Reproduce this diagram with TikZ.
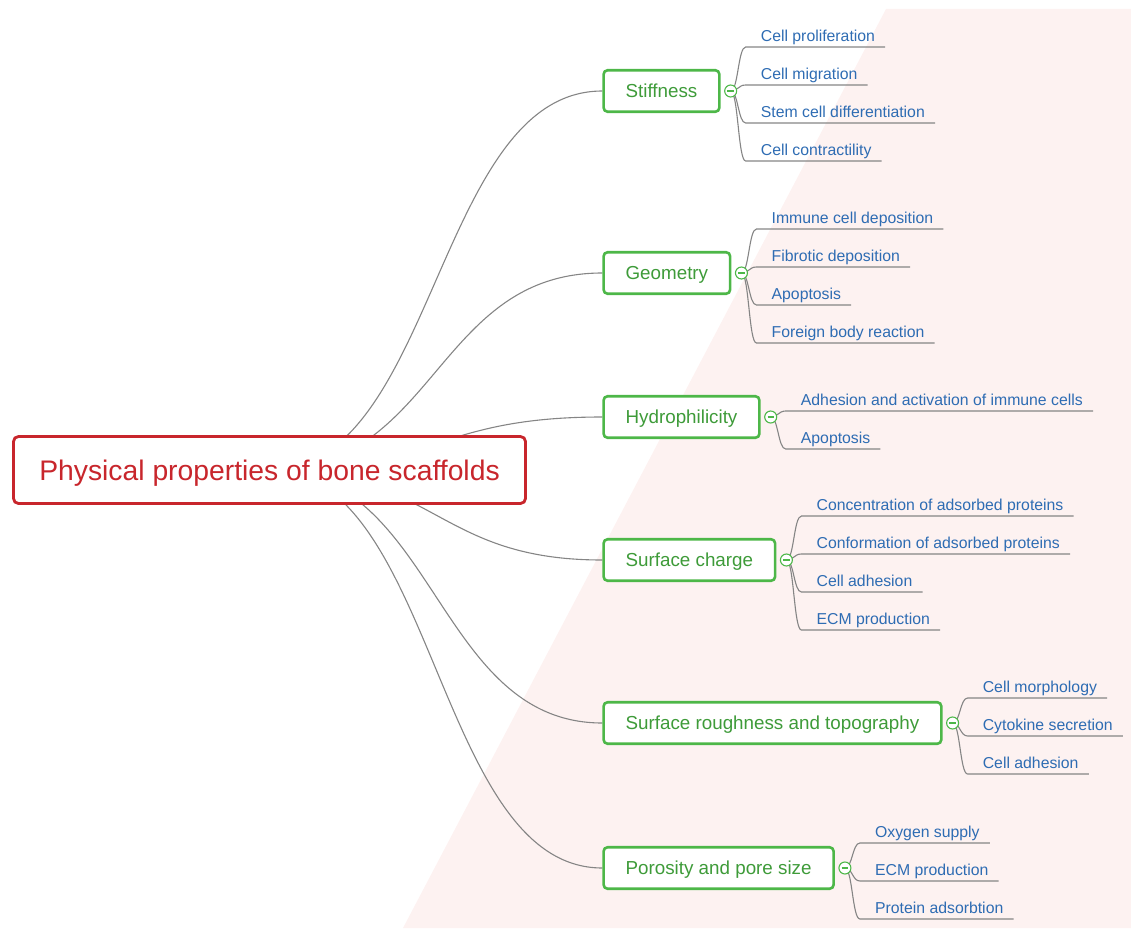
\documentclass[tikz,border=0pt]{standalone}
\usepackage{fontspec}
\setmainfont{Liberation Sans}
\usetikzlibrary{calc}
\definecolor{rootred}{HTML}{C8262C}
\definecolor{brgreen}{HTML}{4DB748}
\definecolor{brtext}{HTML}{3E9B39}
\definecolor{leafblue}{HTML}{2E6CB3}
\definecolor{linegray}{HTML}{858585}
\definecolor{bgpink}{HTML}{FDF2F1}
\pgfdeclarelayer{bg}
\pgfdeclarelayer{mid}
\pgfsetlayers{bg,mid,main}
\newcommand\sconn[2]{%
  \begin{pgfonlayer}{mid}
  \draw[conn] let \p1=(#1), \p2=(#2) in (\p1) .. controls ({(\x1+\x2)/2},\y1) and ({(\x1+\x2)/2},\y2) .. (\p2);
  \end{pgfonlayer}}
\newcommand\leafitem[4]{%
  \node[leaftext, anchor=base west] (#2) at ($(#1)+(30,#3+7.5)$) {#4};
  \coordinate (#2u) at ($(#1)+(15,#3+13)$);
  \begin{pgfonlayer}{mid}
  \draw[conn] (#1.center) .. controls ($(#1)+(7.5,0)$) and ($(#2u)+(-7.5,0)$) .. (#2u) -- ($(#2u -| #2.east)+(10,0)$);
  \end{pgfonlayer}}
\begin{document}
\begin{tikzpicture}[x=1pt,y=-1pt,
  rootbox/.style={draw=rootred, line width=2.8pt, rounded corners=5pt, fill=white,
    text=rootred, font=\fontsize{28.3}{32}\selectfont, minimum width=512pt,
    minimum height=67pt, inner sep=0pt, text height=21pt, text depth=0.7pt},
  branch/.style={draw=brgreen, line width=2.6pt, rounded corners=4pt, fill=white,
    text=brtext, font=\fontsize{18.8}{22}\selectfont, minimum height=41.5pt,
    inner xsep=22pt, inner ysep=0pt, anchor=west, text height=14.4pt, text depth=1pt},
  minus/.style={circle, draw=brgreen, fill=white, line width=1.1pt, minimum size=12pt,
    inner sep=0pt,
    path picture={\draw[brgreen, line width=1.2pt]
      ([xshift=-3.2pt]path picture bounding box.center) --
      ([xshift=3.2pt]path picture bounding box.center);}},
  leaftext/.style={text=leafblue, font=\fontsize{15.8}{18}\selectfont, inner sep=0pt},
  conn/.style={draw=linegray, line width=1.1pt}]
\useasboundingbox (0,0) rectangle (1131,928);
\begin{pgfonlayer}{bg}
  \fill[bgpink] (886,9) -- (1131,9) -- (1131,928) -- (403,928) -- cycle;
\end{pgfonlayer}

\node[rootbox] (root) at (269.5,470) {Physical properties of bone scaffolds};

\node[branch] (b1) at (602.3,91) {Stiffness};
\node[branch] (b2) at (602.3,273) {Geometry};
\node[branch] (b3) at (602.3,417) {Hydrophilicity};
\node[branch] (b4) at (602.3,560) {Surface charge};
\node[branch] (b5) at (602.3,723) {Surface roughness and topography};
\node[branch] (b6) at (602.3,868) {Porosity and pore size};

\foreach \i in {1,...,6}{\sconn{root.center}{b\i.west}}

\foreach \i in {1,...,6}{\node[minus] (c\i) at ($(b\i.east)+(10,0)$) {};}

\leafitem{c1}{l11}{-57}{Cell proliferation}
\leafitem{c1}{l12}{-19}{Cell migration}
\leafitem{c1}{l13}{19}{Stem cell differentiation}
\leafitem{c1}{l14}{57}{Cell contractility}

\leafitem{c2}{l21}{-57}{Immune cell deposition}
\leafitem{c2}{l22}{-19}{Fibrotic deposition}
\leafitem{c2}{l23}{19}{Apoptosis}
\leafitem{c2}{l24}{57}{Foreign body reaction}

\leafitem{c3}{l31}{-19}{Adhesion and activation of immune cells}
\leafitem{c3}{l32}{19}{Apoptosis}

\leafitem{c4}{l41}{-57}{Concentration of adsorbed proteins}
\leafitem{c4}{l42}{-19}{Conformation of adsorbed proteins}
\leafitem{c4}{l43}{19}{Cell adhesion}
\leafitem{c4}{l44}{57}{ECM production}

\leafitem{c5}{l51}{-38}{Cell morphology}
\leafitem{c5}{l52}{0}{Cytokine secretion}
\leafitem{c5}{l53}{38}{Cell adhesion}

\leafitem{c6}{l61}{-38}{Oxygen supply}
\leafitem{c6}{l62}{0}{ECM production}
\leafitem{c6}{l63}{38}{Protein adsorbtion}
\end{tikzpicture}
\end{document}
